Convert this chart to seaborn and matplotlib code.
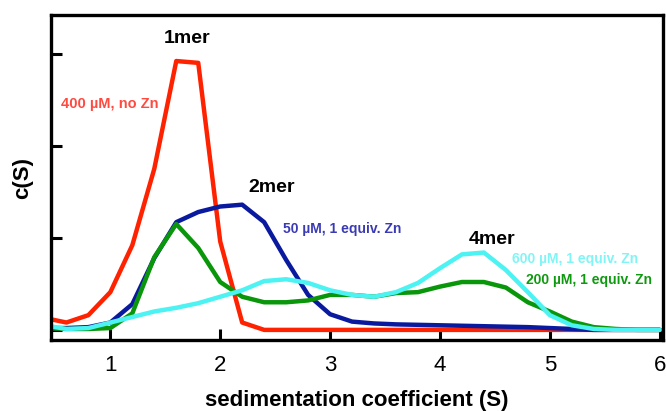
import numpy as np
import pandas as pd
import matplotlib
matplotlib.use("Agg")
import matplotlib.pyplot as plt
import seaborn as sns

# sedimentation coefficient grid (S)
s_values = [0.4, 0.6, 0.8, 1.0, 1.2, 1.4, 1.6, 1.8, 2.0, 2.2, 2.4, 2.6, 2.8, 3.0,
            3.2, 3.4, 3.6, 3.8, 4.0, 4.2, 4.4, 4.6, 4.8, 5.0, 5.2, 5.4, 5.6, 5.8, 6.0]

red_400_noZn = [0.13, 0.08, 0.16, 0.41, 0.92, 1.75, 2.92, 2.90, 0.96, 0.08, 0.0, 0.0, 0.0, 0.0,
                0.0, 0.0, 0.0, 0.0, 0.0, 0.0, 0.0, 0.0, 0.0, 0.0, 0.0, 0.0, 0.0, 0.0, 0.0]
blue_50_Zn = [0.02, 0.02, 0.03, 0.08, 0.28, 0.78, 1.17, 1.28, 1.34, 1.36, 1.17, 0.76, 0.38, 0.17,
              0.09, 0.07, 0.06, 0.055, 0.05, 0.045, 0.04, 0.035, 0.03, 0.02, 0.01, 0.0, 0.0, 0.0, 0.0]
green_200_Zn = [0.02, 0.01, 0.01, 0.02, 0.18, 0.79, 1.15, 0.89, 0.52, 0.36, 0.30, 0.30, 0.32, 0.38,
                0.38, 0.36, 0.40, 0.41, 0.47, 0.52, 0.52, 0.46, 0.30, 0.20, 0.09, 0.03, 0.01, 0.0, 0.0]
cyan_600_Zn = [0.05, 0.01, 0.02, 0.08, 0.14, 0.20, 0.24, 0.29, 0.36, 0.43, 0.53, 0.55, 0.51, 0.43,
               0.38, 0.36, 0.41, 0.51, 0.67, 0.82, 0.84, 0.65, 0.41, 0.16, 0.05, 0.01, 0.0, 0.0, 0.0]

series = ["400 µM, no Zn", "50 µM, 1 equiv. Zn", "200 µM, 1 equiv. Zn", "600 µM, 1 equiv. Zn"]
line_colors = ["#FF2200", "#0A1A9E", "#0A960A", "#4DF2F2"]
text_colors = ["#FF4A40", "#3A3AB5", "#0E9A0E", "#80F5F5"]
xticks = [1, 2, 3, 4, 5, 6]

df = pd.concat([
    pd.DataFrame({"s": s_values, "c": vals, "series": name})
    for name, vals in zip(series, [red_400_noZn, blue_50_Zn, green_200_Zn, cyan_600_Zn])
])

sns.set_theme(style="white")
plt.rcParams["font.family"] = ["Liberation Sans", "DejaVu Sans"]
plt.rcParams["text.color"] = "black"
plt.rcParams["axes.labelcolor"] = "black"
plt.rcParams["xtick.color"] = "black"
plt.rcParams["ytick.color"] = "black"

fig = plt.figure(figsize=(6.66, 4.11), dpi=100)
ax = fig.add_axes([0.0766, 0.1727, 0.9189, 0.7908])

for i, name in enumerate(series):
    sns.lineplot(data=df[df["series"] == name], x="s", y="c", color=line_colors[i],
                 lw=3.2, ax=ax, legend=False, estimator=None, sort=False)

ax.set_xlim(0.46, 6.03)
ax.set_ylim(-0.11, 3.42)
ax.set_xticks(xticks)
ax.set_xticklabels([str(t) for t in xticks])
ax.set_yticks([0, 1, 2, 3])
ax.set_yticklabels([])
ax.tick_params(axis="both", direction="in", length=8, width=2.2, colors="black",
               labelcolor="black", labelsize=16, top=False, right=False, left=True,
               bottom=True, pad=11)
for sp in ax.spines.values():
    sp.set_visible(True)
    sp.set_color("black")
    sp.set_linewidth(2.4)

ax.set_xlabel("sedimentation coefficient (S)", fontsize=16, fontweight="bold",
              labelpad=10, color="black")
ax.set_ylabel("c(S)", fontsize=16, fontweight="bold", labelpad=2, color="black")

# annotations
ax.text(1.7, 3.17, "1mer", fontsize=14, fontweight="bold", ha="center", va="center", color="black")
ax.text(2.47, 1.55, "2mer", fontsize=14, fontweight="bold", ha="center", va="center", color="black")
ax.text(4.47, 0.98, "4mer", fontsize=14, fontweight="bold", ha="center", va="center", color="black")
ax.text(0.55, 2.45, series[0], fontsize=10.5, fontweight="bold", ha="left", va="center", color=text_colors[0])
ax.text(2.57, 1.10, series[1], fontsize=10, fontweight="bold", ha="left", va="center", color=text_colors[1])
ax.text(4.66, 0.77, series[3], fontsize=10, fontweight="bold", ha="left", va="center", color=text_colors[3])
ax.text(4.78, 0.54, series[2], fontsize=10, fontweight="bold", ha="left", va="center", color=text_colors[2])

fig.savefig("out.png", dpi=100)
